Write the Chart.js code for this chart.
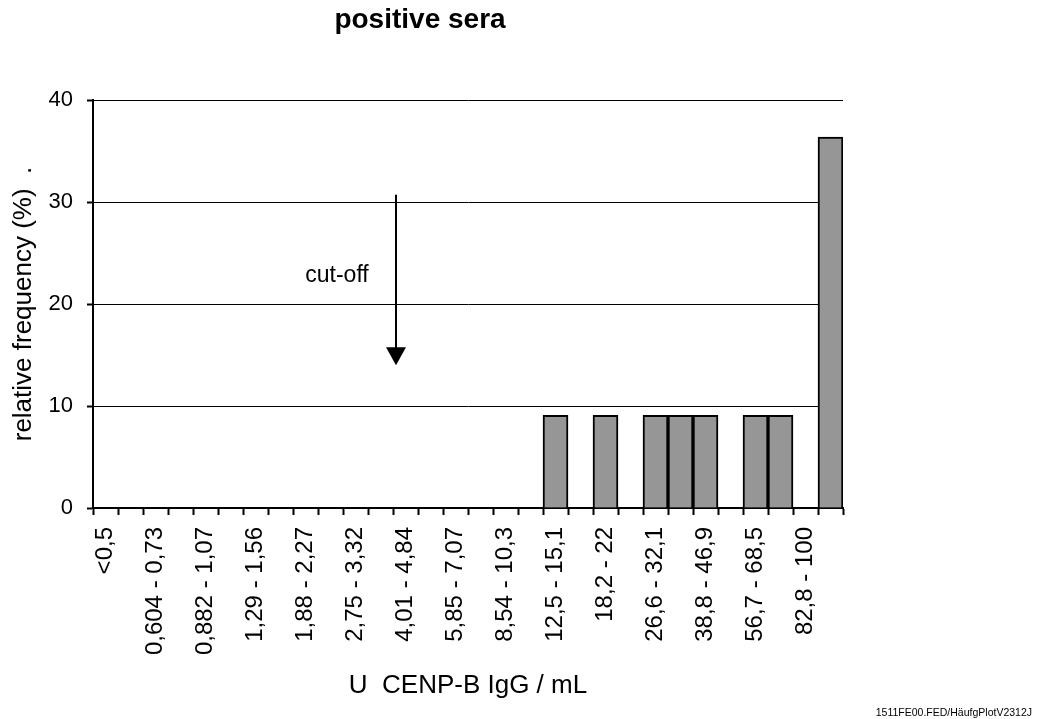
<!DOCTYPE html>
<html>
<head>
<meta charset="utf-8">
<title>positive sera</title>
<script src="https://cdn.jsdelivr.net/npm/chart.js@4.4.1/dist/chart.umd.min.js"></script>
<style>
  body { margin: 0; background: #fff; }
  #wrap { width: 1037px; height: 719px; }
</style>
</head>
<body>
<div id="wrap"><canvas id="chart" width="1037" height="719"></canvas></div>
<script>
// Concentration classes (U CENP-B IgG / mL), only every other class is labelled in the original
const categories = [
    '<0,5', '', '0,604 - 0,73', '', '0,882 - 1,07', '', '1,29 - 1,56', '', '1,88 - 2,27', '',
    '2,75 - 3,32', '', '4,01 - 4,84', '', '5,85 - 7,07', '', '8,54 - 10,3', '', '12,5 - 15,1', '',
    '18,2 - 22', '', '26,6 - 32,1', '', '38,8 - 46,9', '', '56,7 - 68,5', '', '82,8 - 100', ''
];

// relative frequency (%) of the positive sera per class
const frequency = [
    0, 0, 0, 0, 0, 0, 0, 0, 0, 0,
    0, 0, 0, 0, 0, 0, 0, 0, 9.09, 0,
    9.09, 0, 9.09, 9.09, 9.09, 0, 9.09, 9.09, 0, 36.36
];

const yTicks = [0, 10, 20, 30, 40];

// cut-off arrow, in data units (category index, %)
const cutoffArrow = [11.62, 30.7, 14.0];
const cutoffLabel = [9.26, 22.8];

const FONT = "'Liberation Sans', Arial, sans-serif";

// draws the cut-off arrow, the title and the file note
const extras = {
    id: 'extras',
    afterDatasetsDraw(chart) {
        const { ctx, scales: { x, y } } = chart;
        const ax = x.getPixelForValue(cutoffArrow[0]);
        const y1 = y.getPixelForValue(cutoffArrow[1]);
        const y2 = y.getPixelForValue(cutoffArrow[2]);
        ctx.save();
        ctx.strokeStyle = '#000';
        ctx.fillStyle = '#000';
        ctx.lineWidth = 2;
        ctx.beginPath();
        ctx.moveTo(ax, y1);
        ctx.lineTo(ax, y2 - 16);
        ctx.stroke();
        // arrow head
        ctx.beginPath();
        ctx.moveTo(ax - 10, y2 - 18);
        ctx.lineTo(ax + 10, y2 - 18);
        ctx.lineTo(ax, y2);
        ctx.closePath();
        ctx.fill();

        ctx.font = '23px ' + FONT;
        ctx.textAlign = 'center';
        ctx.textBaseline = 'middle';
        ctx.fillText('cut-off', x.getPixelForValue(cutoffLabel[0]), y.getPixelForValue(cutoffLabel[1]));
        ctx.restore();
    },
    afterDraw(chart) {
        const ctx = chart.ctx;
        ctx.save();
        ctx.fillStyle = '#000';
        ctx.textBaseline = 'alphabetic';
        ctx.textAlign = 'center';
        ctx.font = 'bold 28px ' + FONT;
        ctx.fillText('positive sera', 420, 28);
        ctx.textAlign = 'right';
        ctx.font = '10.5px ' + FONT;
        ctx.fillText('1511FE00.FED/HäufgPlotV2312J', 1032, 716);
        ctx.restore();
    }
};

const ctx = document.getElementById('chart').getContext('2d');
new Chart(ctx, {
    type: 'bar',
    data: {
        labels: categories,
        datasets: [{
            label: 'positive sera',
            data: frequency,
            backgroundColor: '#969696',
            borderColor: '#000',
            borderWidth: 2,
            barPercentage: 1,
            categoryPercentage: 1
        }]
    },
    options: {
        responsive: false,
        animation: false,
        layout: { padding: { top: 100, left: 0, right: 194, bottom: 18 } },
        plugins: {
            legend: { display: false },
            tooltip: { enabled: false }
        },
        scales: {
            x: {
                grid: { display: true, drawOnChartArea: false, drawTicks: true, tickLength: 7, tickWidth: 2, tickColor: '#000', offset: true },
                border: { display: true, color: '#000', width: 2 },
                ticks: {
                    autoSkip: false, maxRotation: 90, minRotation: 90, padding: 12,
                    color: '#000', font: { family: FONT, size: 24 }
                },
                title: {
                    display: true, text: 'U  CENP-B IgG / mL', color: '#000',
                    font: { family: FONT, size: 26 }, padding: { top: 4, bottom: 0 }
                },
                afterFit(scale) {
                    scale.height = 193;
                    scale.paddingLeft = 0;
                    scale.paddingRight = 0;
                }
            },
            y: {
                min: 0,
                max: 40,
                afterBuildTicks(scale) {
                    scale.ticks = yTicks.map(v => ({ value: v }));
                },
                grid: { color: '#000', lineWidth: 1, drawTicks: true, tickLength: 6, tickWidth: 2, tickColor: '#000' },
                border: { display: true, color: '#000', width: 2 },
                ticks: { padding: 14, color: '#000', font: { family: FONT, size: 22 } },
                title: {
                    display: true, text: 'relative frequency (%)  .', color: '#000',
                    font: { family: FONT, size: 26 }, padding: { top: 8, bottom: 0 }
                },
                afterFit(scale) {
                    scale.width = 93;
                    scale.paddingTop = 0;
                    scale.paddingBottom = 0;
                }
            }
        }
    },
    plugins: [extras]
});
</script>
</body>
</html>
